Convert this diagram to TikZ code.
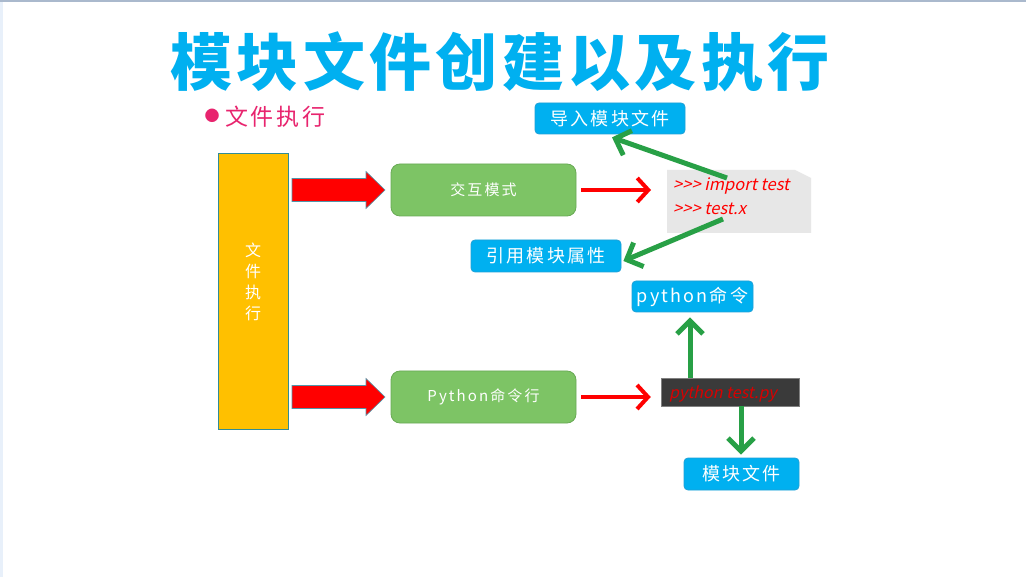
\documentclass[tikz,border=0pt]{standalone}
\usepackage{fontspec}
\setmainfont{Noto Sans CJK SC}
\newfontfamily\cjksp[LetterSpace=12]{Noto Sans CJK SC}
\newfontfamily\cjkgr[LetterSpace=14]{Noto Sans CJK SC}
\newfontfamily\cjkit[FakeSlant=0.22]{Noto Sans CJK SC}
\newfontfamily\cjktitle[LetterSpace=7]{Noto Sans CJK SC}
\usetikzlibrary{arrows.meta,calc}
\definecolor{titleblue}{RGB}{0,176,240}
\definecolor{boxblue}{RGB}{0,176,240}
\definecolor{boxblueb}{RGB}{30,160,215}
\definecolor{pinkc}{RGB}{232,36,110}
\definecolor{yel}{RGB}{255,192,0}
\definecolor{yelb}{RGB}{50,140,150}
\definecolor{grn}{RGB}{125,196,101}
\definecolor{grnb}{RGB}{105,170,85}
\definecolor{arrgreen}{RGB}{40,160,70}
\definecolor{redc}{RGB}{255,0,0}
\definecolor{arrredb}{RGB}{80,150,170}
\definecolor{notegray}{RGB}{231,231,231}
\definecolor{darkbox}{RGB}{58,58,58}
\definecolor{topline}{RGB}{170,185,205}
\definecolor{leftstrip}{RGB}{232,240,250}
\tikzset{
  bluebox/.style={draw=boxblueb, line width=0.8pt, fill=boxblue, rounded corners=4pt,
    text=white, font=\cjksp\fontsize{18}{20}\selectfont, inner sep=0pt},
  greenbox/.style={draw=grnb, line width=0.8pt, fill=grn, rounded corners=9pt,
    text=white, font=\cjkgr\fontsize{15}{17}\selectfont, inner sep=0pt,
    minimum width=185pt, minimum height=52pt},
  blockarrow/.style={fill=redc, draw=arrredb, line width=0.6pt},
  redarr/.style={draw=redc, line width=4pt,
    -{Straight Barb[length=11pt,width=24pt,line width=4pt]}},
  greenarr/.style={draw=arrgreen, line width=5pt,
    -{Straight Barb[length=13pt,width=26pt,line width=5pt]}},
  codetext/.style={text=redc, font=\cjkit\fontsize{16.5}{18}\selectfont, inner sep=0pt, anchor=west}
}
\begin{document}
\begin{tikzpicture}[x=1pt,y=-1pt]
\useasboundingbox (0,0) rectangle (1026,577);
\fill[white] (0,0) rectangle (1026,577);
\fill[leftstrip] (0,0) rectangle (3,577);
\fill[topline] (0,0) rectangle (1026,2);

% title
\node[text=titleblue, font=\cjktitle\bfseries\fontsize{62}{64}\selectfont, inner sep=0pt] (title) at (500,62) {模块文件创建以及执行};
% bullet line
\node[text=pinkc, font=\fontsize{15}{16}\selectfont, inner sep=0pt] (bul) at (212,116) {●};
\node[text=pinkc, font=\cjksp\fontsize{23}{26}\selectfont, inner sep=0pt, anchor=west] (sub) at (225,117) {文件执行};

% yellow bar
\node[draw=yelb, line width=0.6pt, fill=yel, minimum width=70pt, minimum height=276pt, inner sep=0pt] (bar) at (253,291) {};
\node[text=white, font=\fontsize{16}{21}\selectfont, align=center, inner sep=0pt] (bartxt) at (253,282) {文\\件\\执\\行};

% green boxes
\node[greenbox] (g1) at (483.5,190) {交互模式};
\node[greenbox] (g2) at (483.5,397) {Python命令行};

% block arrows
\foreach \yy/\nm in {190/ba1, 397/ba2}{
  \path[blockarrow] (292,\yy-11.5) -- (366,\yy-11.5) -- (366,\yy-18.5) -- (385,\yy) -- (366,\yy+18.5) -- (366,\yy+11.5) -- (292,\yy+11.5) -- cycle;
}

% note box
\fill[notegray] (667,170) -- (795,170) -- (811,178) -- (811,233) -- (667,233) -- cycle;
\coordinate (note) at (667,201);
\node[codetext] (c1) at (673,186) {>{}>{}> import test};
\node[codetext] (c2) at (673,209) {>{}>{}> test.x};

% dark box
\node[fill=darkbox, draw=gray, line width=0.5pt, minimum width=138pt, minimum height=28pt, inner sep=0pt] (dark) at (730,392) {};
\node[codetext, text=red!85!black, font=\cjkit\fontsize{16}{18}\selectfont] (dtxt) at (669,394) {python test.py};

% blue boxes
\node[bluebox, minimum width=150pt, minimum height=31pt] (imp) at (610,118.5) {导入模块文件};
\node[bluebox, minimum width=150pt, minimum height=32pt] (attr) at (546,256) {引用模块属性};
\node[bluebox, minimum width=121pt, minimum height=31pt] (pycmd) at (692.5,296.5) {python命令};
\node[bluebox, minimum width=115pt, minimum height=32pt] (modf) at (741.5,474) {模块文件};

% red thin arrows
\draw[redarr, shorten <=5pt, shorten >=16pt] (g1.east) -- (g1.east -| note);
\draw[redarr, shorten <=5pt, shorten >=10pt] (g2.east) -- (g2.east -| dark.west);

% green arrows
\coordinate (n1) at (727,178);
\coordinate (n2) at (723,219);
\draw[greenarr] (n1) -- ($(imp.south)+(2,3)$);
\draw[greenarr] (n2) -- ($(attr.east)+(2,5)$);
\draw[greenarr, shorten >=5pt] (dark.north -| 690,0) -- (pycmd.south -| 690,0);
\draw[greenarr, shorten >=3pt] (dark.south -| 741,0) -- (modf.north -| 741,0);
\end{tikzpicture}
\end{document}
